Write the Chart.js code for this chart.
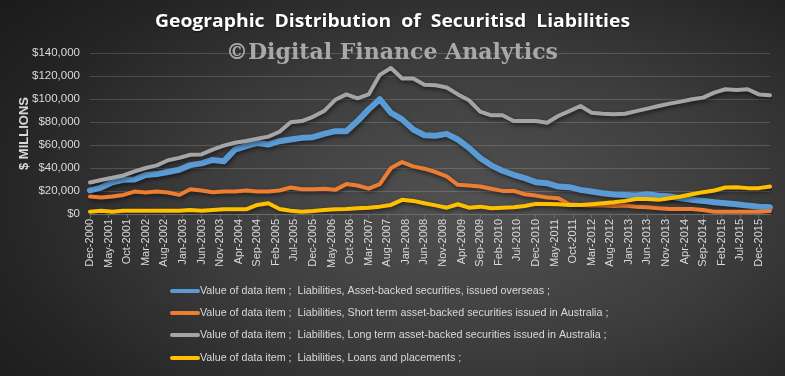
<!DOCTYPE html>
<html>
<head>
<meta charset="utf-8">
<script src="https://cdn.jsdelivr.net/npm/chart.js@4.4.1/dist/chart.umd.min.js"></script>
<style>
  html, body { margin: 0; padding: 0; }
  #wrap {
    width: 785px; height: 376px; position: relative; overflow: hidden;
    background: radial-gradient(ellipse 75% 85% at 60% 55%, #525252 0%, #3d3d3d 45%, #252525 80%, #1c1c1c 100%);
  }
</style>
</head>
<body>
<div id="wrap"><canvas id="chart" width="785" height="376"></canvas></div>
<script>
// quarterly observations, Dec-2000 .. Mar-2016, $ millions
const overseas = [
  20500, 23000, 27500, 29800, 30000, 34000, 34700, 36500, 38500, 42500,
  44000, 47000, 45800, 56000, 59000, 61800, 60400, 63300, 64800, 66200,
  66800, 69700, 72000, 72000, 80800, 91000, 99800, 88000, 82300, 73500,
  68500, 68000, 69700, 64800, 57500, 48700, 42300, 37600, 34100, 31200,
  27700, 26800, 23900, 23300, 21000, 19500, 18100, 17000, 16600, 16000,
  17200, 15800, 15200, 13700, 12300, 11400, 10200, 9300, 8500, 7300,
  6400, 5800
];
const shortTermAus = [
  15200, 14300, 15200, 16600, 19500, 18700, 19500, 18700, 16600, 21600,
  20400, 19000, 19500, 19500, 20400, 19500, 19500, 20400, 23000, 21600,
  21600, 22000, 21000, 26000, 24800, 22000, 26000, 40000, 45200, 41400,
  39400, 36500, 32700, 25400, 24800, 23900, 21900, 20100, 20100, 17200,
  16000, 14300, 13700, 8500, 7900, 7300, 7300, 7000, 7300, 6400,
  5800, 5000, 4400, 4400, 4400, 3500, 2000, 2000, 2000, 2000,
  2000, 2600
];
const longTermAus = [
  27400, 29500, 31500, 33500, 37000, 40000, 42300, 46700, 48800, 51500,
  51800, 56000, 59500, 62000, 63500, 65500, 67300, 71500, 79800, 80800,
  84500, 89500, 99300, 104000, 100600, 104000, 121000, 126900, 117800, 117800,
  112300, 112000, 110000, 104000, 98900, 89000, 85800, 85800, 80800, 80800,
  80800, 79300, 85200, 89500, 93900, 88100, 87200, 86800, 87200, 89500,
  91600, 93900, 96000, 97700, 99800, 101200, 105600, 108500, 107900, 108500,
  104000, 103300
];
const loans = [
  2000, 2900, 2000, 2900, 2900, 2900, 2900, 2900, 2900, 3500,
  2900, 3500, 4100, 4100, 4100, 7900, 9300, 4400, 2900, 2000,
  2600, 3500, 4100, 4400, 5000, 5500, 6400, 7900, 12300, 11400,
  9300, 7500, 5500, 8500, 5500, 6400, 5000, 5500, 5800, 7000,
  8800, 8800, 8500, 7900, 7900, 8500, 9300, 10200, 11400, 13100,
  13100, 12300, 13700, 15200, 17200, 19000, 20400, 23000, 23300, 22500,
  22500, 23900
];

const seriesNames = [
  'Value of data item ;  Liabilities, Asset-backed securities, issued overseas ;',
  'Value of data item ;  Liabilities, Short term asset-backed securities issued in Australia ;',
  'Value of data item ;  Liabilities, Long term asset-backed securities issued in Australia ;',
  'Value of data item ;  Liabilities, Loans and placements ;'
];
const seriesColors = ['#5b9bd5', '#ed7d31', '#a5a5a5', '#ffc000'];

const xTickLabels = [
  'Dec-2000', 'May-2001', 'Oct-2001', 'Mar-2002', 'Aug-2002', 'Jan-2003', 'Jun-2003',
  'Nov-2003', 'Apr-2004', 'Sep-2004', 'Feb-2005', 'Jul-2005', 'Dec-2005', 'May-2006',
  'Oct-2006', 'Mar-2007', 'Aug-2007', 'Jan-2008', 'Jun-2008', 'Nov-2008', 'Apr-2009',
  'Sep-2009', 'Feb-2010', 'Jul-2010', 'Dec-2010', 'May-2011', 'Oct-2011', 'Mar-2012',
  'Aug-2012', 'Jan-2013', 'Jun-2013', 'Nov-2013', 'Apr-2014', 'Sep-2014', 'Feb-2015',
  'Jul-2015', 'Dec-2015'
];

// monthly category axis, Dec-2000 .. Mar-2016
const monNames = ['Jan','Feb','Mar','Apr','May','Jun','Jul','Aug','Sep','Oct','Nov','Dec'];
const months = [];
for (let i = 0; i < 184; i++) {
  const m = 11 + i;
  months.push(monNames[m % 12] + '-' + (2000 + Math.floor(m / 12)));
}
function toMonthly(q) {
  const out = new Array(months.length).fill(null);
  q.forEach((v, k) => { out[k * 3] = v; });
  return out;
}

const textColor = '#d9d9d9';

const shadowPlugin = {
  id: 'shadow',
  beforeDatasetsDraw(chart) {
    const ctx = chart.ctx;
    ctx.save();
    ctx.shadowColor = 'rgba(0,0,0,0.55)';
    ctx.shadowBlur = 4;
    ctx.shadowOffsetX = 1;
    ctx.shadowOffsetY = 2;
  },
  afterDatasetsDraw(chart) {
    chart.ctx.restore();
  }
};

function fitText(ctx, text, x, y, width) {
  const w = ctx.measureText(text).width;
  ctx.save();
  ctx.translate(x, y);
  ctx.scale(width / w, 1);
  ctx.fillText(text, 0, 0);
  ctx.restore();
}

const decorPlugin = {
  id: 'decor',
  afterDraw(chart) {
    const ctx = chart.ctx;
    ctx.save();
    // title
    ctx.fillStyle = '#ffffff';
    ctx.textBaseline = 'alphabetic';
    ctx.textAlign = 'left';
    ctx.font = 'bold 17px "Open Sans", sans-serif';
    ctx.shadowColor = 'rgba(0,0,0,0.6)';
    ctx.shadowBlur = 2;
    ctx.shadowOffsetY = 1;
    fitText(ctx, 'Geographic  Distribution  of  Securitisd  Liabilities', 155, 27, 475);
    // watermark
    ctx.shadowColor = 'transparent';
    ctx.fillStyle = '#a9a9a9';
    ctx.font = 'bold 23px "DejaVu Serif", serif';
    fitText(ctx, '\u00A9Digital Finance Analytics', 226, 59, 332);
    // legend
    ctx.font = '11.5px "Liberation Sans", sans-serif';
    ctx.textBaseline = 'middle';
    const rowY = [291, 313, 335, 358];
    const ref = ctx.measureText(seriesNames[0]).width;
    const sx = 350 / ref;
    chart.data.datasets.forEach((ds, i) => {
      const y = rowY[i];
      ctx.strokeStyle = ds.borderColor;
      ctx.lineWidth = 4;
      ctx.lineCap = 'round';
      ctx.beginPath();
      ctx.moveTo(172, y);
      ctx.lineTo(198, y);
      ctx.stroke();
      ctx.fillStyle = textColor;
      ctx.save();
      ctx.translate(200, y);
      ctx.scale(sx, 1);
      ctx.fillText(ds.label, 0, 0);
      ctx.restore();
    });
    ctx.restore();
  }
};

new Chart(document.getElementById('chart').getContext('2d'), {
  type: 'line',
  data: {
    labels: months,
    datasets: [
      { label: seriesNames[0], data: toMonthly(overseas), borderColor: seriesColors[0], borderWidth: 6, order: 4 },
      { label: seriesNames[1], data: toMonthly(shortTermAus), borderColor: seriesColors[1], borderWidth: 4, order: 3 },
      { label: seriesNames[2], data: toMonthly(longTermAus), borderColor: seriesColors[2], borderWidth: 4, order: 2 },
      { label: seriesNames[3], data: toMonthly(loans), borderColor: seriesColors[3], borderWidth: 4, order: 1 }
    ].map(d => Object.assign(d, {
      pointRadius: 0, pointHoverRadius: 0, spanGaps: true, tension: 0,
      borderJoinStyle: 'round', borderCapStyle: 'round', fill: false
    }))
  },
  options: {
    responsive: false,
    animation: false,
    devicePixelRatio: 1,
    layout: { padding: { top: 53, right: 15, bottom: 107, left: 0 } },
    plugins: {
      legend: { display: false },
      title: { display: false },
      tooltip: { enabled: false }
    },
    scales: {
      x: {
        grid: { display: true, drawOnChartArea: false, drawTicks: true, tickLength: 4, color: '#6a6a6a' },
        border: { display: true, color: '#6a6a6a' },
        ticks: {
          autoSkip: false,
          maxRotation: 90,
          minRotation: 90,
          padding: 1,
          color: textColor,
          font: { family: '"Liberation Sans", sans-serif', size: 11 },
          callback(value) {
            const lab = months[value];
            return xTickLabels.includes(lab) ? lab : null;
          }
        },
        afterFit(scale) { scale.height = 55; }
      },
      y: {
        min: 0,
        max: 140000,
        grid: { color: 'rgba(255,255,255,0.16)', drawTicks: false },
        border: { display: false },
        ticks: {
          stepSize: 20000,
          padding: 10,
          color: textColor,
          font: { family: '"Liberation Sans", sans-serif', size: 11.5 },
          callback: v => '$' + v.toLocaleString('en-US')
        },
        title: {
          display: true,
          text: '$ MILLIONS',
          color: textColor,
          font: { family: '"Liberation Sans", sans-serif', size: 13, weight: 'bold' },
          padding: { top: 17, bottom: 0 }
        },
        afterFit(scale) { scale.width = 90; }
      }
    }
  },
  plugins: [shadowPlugin, decorPlugin]
});
</script>
</body>
</html>
